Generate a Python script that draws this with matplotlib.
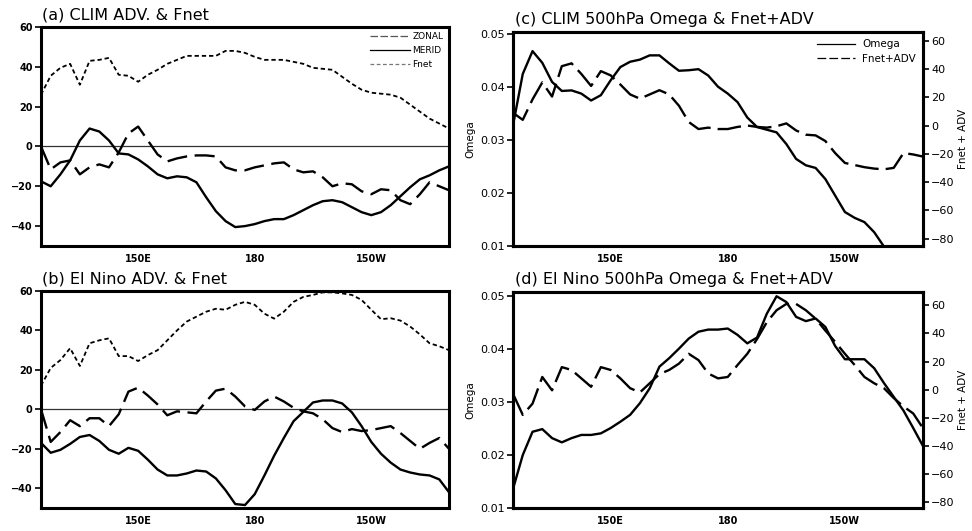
import numpy as np
import matplotlib
matplotlib.use("Agg")
import matplotlib.pyplot as plt
from matplotlib.lines import Line2D

# ---------------- data ----------------
lon = [125 + 2.5 * k for k in range(43)]  # 125E ... 230 (130W)

xtick_pos = [150, 180, 210]
xtick_lab = ["150E", "180", "150W"]

# (a) climatology
a_fnet = [26, 35.5, 39.5, 41.5, 31, 43, 43.5, 44.5, 36, 35.5,
          32.5, 36, 38.5, 41.5, 43.5, 45.5, 45.5, 45.5, 45.5, 48,
          48, 47, 45, 43.5, 43.5, 43.5, 42.5, 41.5, 39.5, 39,
          38.5, 35, 31.5, 28.5, 27, 26.5, 26, 24.5, 21, 17.5,
          14, 11.5, 9]
a_merid = [-17.5, -20, -14, -7, 3, 9, 7.5, 3, -3.5, -4,
           -6.5, -10, -14, -16, -15, -15.5, -18, -25.5, -32.5, -37.5,
           -40.5, -40, -39, -37.5, -36.5, -36.5, -34.5, -32, -29.5, -27.5,
           -27, -28, -30.5, -33, -34.5, -33, -29.5, -25, -20.5, -16.5,
           -14.5, -12, -10]
a_zonal = [0, -11.5, -8, -7, -14, -10.5, -9, -10.5, -3, 6.5,
           10, 3, -4, -7.5, -6, -5, -4.5, -4.5, -5, -10.5,
           -12, -12, -10.5, -9.5, -8.5, -8, -11.5, -13, -12.5, -15.5,
           -20, -18.5, -19, -22.5, -24, -21.5, -22, -27, -29, -24,
           -18, -20, -22]

# (b) El Nino
b_fnet = [12, 21, 25, 31, 22, 33.5, 35, 36, 27, 27,
          24.5, 27.5, 30, 35, 40, 44.5, 47, 49.5, 51, 50.5,
          53, 54.5, 53, 48.5, 46, 49.5, 54.5, 57, 58, 59.3,
          59.3, 58.8, 58, 55.5, 50.5, 45.7, 46.2, 45, 42, 38,
          33.5, 32, 30]
b_merid = [-17, -22, -20.5, -17.5, -14, -13, -16, -20.5, -22.5, -19.5,
           -21, -25.5, -30.5, -33.5, -33.5, -32.5, -31, -31.5, -35, -41,
           -48, -48.5, -43, -33.5, -23.5, -14.5, -6, -1.3, 3.5, 4.5,
           4.5, 3, -1.5, -8.5, -16.5, -22.5, -27, -30.5, -32, -33,
           -33.5, -35.5, -42]
b_zonal = [0, -16.5, -11.5, -5.5, -8.5, -4.5, -4.5, -8.5, -2.5, 9,
           11, 7, 2.5, -3, -1, -1.5, -2, 4, 9.5, 10.5,
           6.5, 1.5, -0.3, 4, 6.5, 4, 0.8, -1, -2, -5,
           -9.5, -11.5, -10, -11, -10.5, -9.5, -8.5, -12, -16, -20,
           -17, -14.5, -20]

# (c) climatology omega & Fnet+ADV
c_omega = [0.0327, 0.0424, 0.0467, 0.0445, 0.0409, 0.0392, 0.0393, 0.0387, 0.0374, 0.0384,
           0.0412, 0.0437, 0.0447, 0.0451, 0.0459, 0.0459, 0.0444, 0.0430, 0.0431, 0.0433,
           0.0421, 0.0400, 0.0387, 0.0371, 0.0342, 0.0324, 0.0319, 0.0314, 0.0292, 0.0264,
           0.0252, 0.0247, 0.0226, 0.0195, 0.0164, 0.0153, 0.0145, 0.0126, 0.0099, 0.0075,
           0.0060, 0.0050, 0.0040]
c_fadv = [9, 4, 18.5, 30.5, 20.5, 42, 44, 36.5, 28, 38.5,
          35.5, 29, 22, 19, 22, 25, 22, 14, 2.5, -2.5,
          -1.5, -2.5, -2.5, -1, 0, -1, -1.5, -0.5, 1.5, -3.5,
          -6.5, -7, -11, -19.5, -26.5, -28, -29.5, -30.5, -31, -30,
          -19.5, -20.5, -22]

# (d) El Nino omega & Fnet+ADV
d_omega = [0.0136, 0.0200, 0.0244, 0.0249, 0.0232, 0.0224, 0.0232, 0.0238, 0.0238, 0.0241,
           0.0251, 0.0263, 0.0276, 0.0298, 0.0326, 0.0367, 0.0383, 0.0401, 0.0420, 0.0433,
           0.0437, 0.0437, 0.0439, 0.0427, 0.0411, 0.0422, 0.0467, 0.0500, 0.0489, 0.0461,
           0.0453, 0.0458, 0.0442, 0.0406, 0.0381, 0.0381, 0.0381, 0.0364, 0.0336, 0.0310,
           0.0284, 0.0251, 0.0217]
d_fadv = [-3, -18, -10, 9, -0.5, 16, 14, 8, 2, 16,
          14, 8, 1, -2, 4.5, 11, 14, 18.5, 25.5, 21,
          11.5, 8, 9, 17.5, 25.5, 36, 48, 56.5, 61, 61,
          56.5, 50.5, 42, 34, 25.5, 17.5, 9, 4.5, 1, -6,
          -12, -17, -27.5]

# ---------------- layout ----------------
W, H = 972, 531
fig = plt.figure(figsize=(W / 100, H / 100), dpi=100)
plt.rcParams['font.family'] = ['DejaVu Sans']


def pax(l, r, t, b):
    return fig.add_axes([l / W, 1 - b / H, (r - l) / W, (b - t) / H])


LONG = (0, (8.5, 3.2))
SHORT = (0, (2.4, 1.6))
LW = 1.7


def style_frame(ax):
    for s in ax.spines.values():
        s.set_linewidth(2.2)
    ax.set_xlim(125, 230)
    ax.set_xticks(xtick_pos)
    ax.set_xticklabels(xtick_lab, fontsize=7, fontweight='bold')
    ax.tick_params(axis='x', length=0, pad=6)


def adv_panel(ax, fnet, merid, zonal, title, legend):
    ax.axhline(0, color='#333333', lw=0.9, zorder=1)
    ax.plot(lon, fnet, color='black', lw=1.3, linestyle=SHORT, zorder=3)
    ax.plot(lon, merid, color='black', lw=LW, zorder=3)
    ax.plot(lon, zonal, color='black', lw=LW, linestyle=LONG, zorder=3)
    style_frame(ax)
    ax.set_ylim(-50, 60)
    ax.set_yticks([-40, -20, 0, 20, 40, 60])
    ax.set_yticklabels(["\u221240", "\u221220", "0", "20", "40", "60"],
                       fontsize=7, fontweight='bold')
    ax.tick_params(axis='y', length=4, width=1.2, direction='out', pad=2)
    ax.text(0.002, 1.02, title, transform=ax.transAxes, fontsize=11.5,
            ha='left', va='bottom')
    if legend:
        handles = [Line2D([], [], color='#555555', lw=0.9, linestyle=(0, (6, 2))),
                   Line2D([], [], color='black', lw=0.9),
                   Line2D([], [], color='#777777', lw=0.9, linestyle=(0, (3, 2)))]
        ax.legend(handles, ["ZONAL", "MERID", "Fnet"], loc='upper right',
                  frameon=False, fontsize=6.5, handlelength=4.4,
                  handletextpad=0.3, labelspacing=0.55,
                  borderaxespad=0.2, bbox_to_anchor=(1.0, 1.0))


def omega_panel(ax, omega, fadv, title, legend, rlim, ltop):
    ax2 = ax.twinx()
    ax.plot(lon, omega, color='black', lw=LW, zorder=3)
    ax2.plot(lon, fadv, color='black', lw=LW, linestyle=(0, (10, 3)), zorder=3)
    style_frame(ax)
    ax.set_ylim(0.01, ltop)
    ax.set_yticks([0.01, 0.02, 0.03, 0.04, 0.05])
    ax.set_yticklabels(["0.01", "0.02", "0.03", "0.04", "0.05"], fontsize=8)
    ax.tick_params(axis='y', length=4, width=1.2, direction='out', pad=2)
    ax.set_ylabel("Omega", fontsize=7.5, labelpad=3)
    ax2.set_ylim(*rlim)
    ax2.set_yticks([-80, -60, -40, -20, 0, 20, 40, 60])
    ax2.set_yticklabels(["\u221280", "\u221260", "\u221240", "\u221220", "0", "20", "40", "60"],
                        fontsize=8)
    ax2.tick_params(axis='y', length=4, width=1.2, direction='out', pad=2)
    ax2.set_ylabel("Fnet + ADV", fontsize=7.5, labelpad=2)
    for s in ax2.spines.values():
        s.set_linewidth(2.2)
    ax.text(0.005, 1.025, title, transform=ax.transAxes, fontsize=11.5,
            ha='left', va='bottom')
    if legend:
        handles = [Line2D([], [], color='black', lw=0.9),
                   Line2D([], [], color='black', lw=0.9, linestyle=(0, (7, 2.5)))]
        ax2.legend(handles, ["Omega", "Fnet+ADV"], loc='upper right',
                   frameon=False, fontsize=7.5, handlelength=3.6,
                   handletextpad=0.7, labelspacing=0.45,
                   borderaxespad=0.3, bbox_to_anchor=(1.0, 1.0))


ax_a = pax(41, 449, 27, 246)
ax_b = pax(41, 449, 291, 508)
ax_c = pax(513, 923, 32, 246)
ax_d = pax(513, 923, 292, 508)

adv_panel(ax_a, a_fnet, a_merid, a_zonal, "(a) CLIM ADV. & Fnet", True)
adv_panel(ax_b, b_fnet, b_merid, b_zonal, "(b) El Nino ADV. & Fnet", False)
omega_panel(ax_c, c_omega, c_fadv, "(c) CLIM 500hPa Omega & Fnet+ADV", True,
            (-85.3, 66.2), 0.0503)
omega_panel(ax_d, d_omega, d_fadv, "(d) El Nino 500hPa Omega & Fnet+ADV", False,
            (-84.3, 69.5), 0.0508)

fig.savefig("out.png", dpi=100)
